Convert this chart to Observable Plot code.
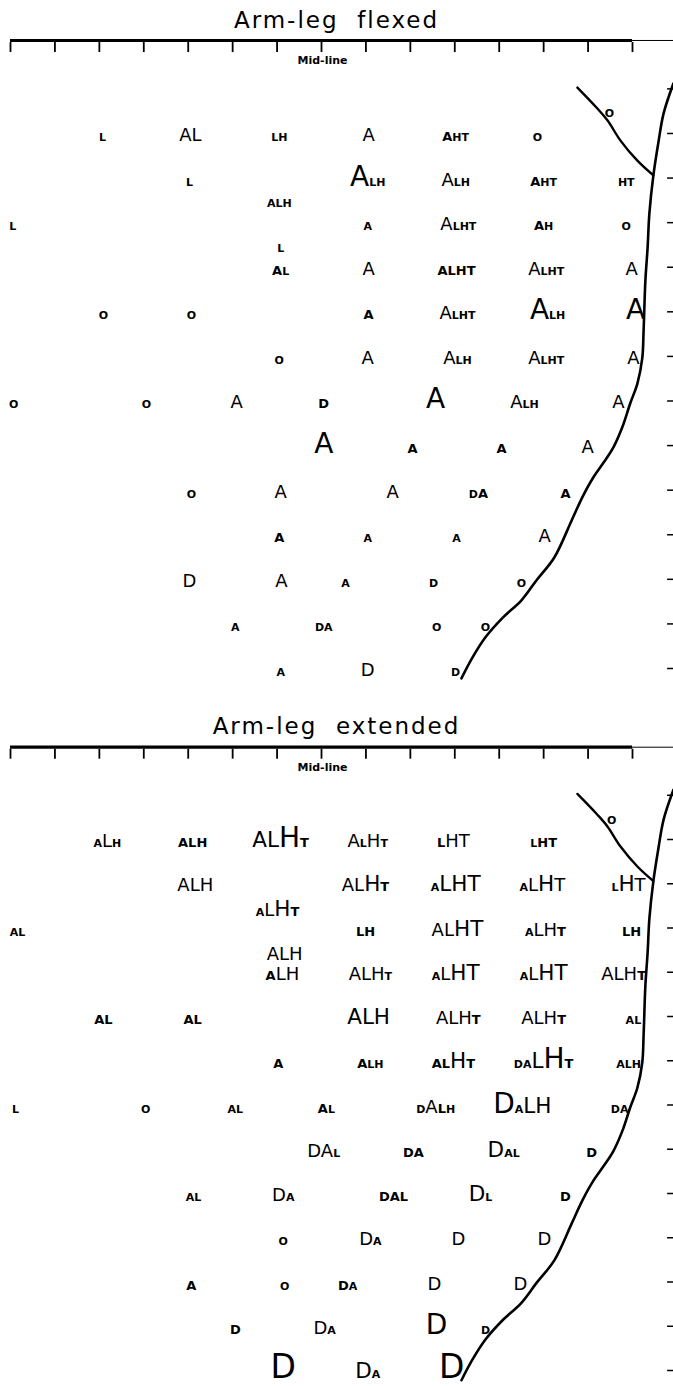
<!DOCTYPE html>
<html><head><meta charset="utf-8">
<script src="https://cdn.jsdelivr.net/npm/d3@7"></script>
<script src="https://cdn.jsdelivr.net/npm/@observablehq/plot@0.6"></script>
<style>
body{margin:0;background:#fff;width:673px;overflow:hidden;}
.title{font:23px "DejaVu Sans",sans-serif;height:30px;line-height:40px;text-align:center;white-space:pre;letter-spacing:2px;color:#000;overflow:visible;}
svg{display:block;}
</style></head><body><div id="c"></div>
<script>
// ---- data ----
const panelTitles = ["Arm-leg  flexed", "Arm-leg  extended"];
const xTicks = d3.range(-7, 8);          // electrode columns, 0 = mid-line
const rowTicks = d3.range(0, 14);        // electrode rows
const midLineLabel = "Mid-line";
// outline of the cortex edge (x in column units, y in rows)
const outline = [[7.92,-0.12],[7.70,0.55],[7.58,1.22],[7.47,1.94],[7.38,2.79],[7.34,3.56],[7.29,4.30],[7.25,5.42],[7.22,6.04],[7.11,6.61],[6.95,7.05],[6.77,7.59],[6.57,8.04],[6.35,8.38],[6.12,8.71],[5.87,9.16],[5.63,9.68],[5.24,10.51],[4.84,11.02],[4.50,11.47],[4.07,11.87],[3.69,12.30],[3.40,12.75],[3.15,13.22]];
const branch = [[5.76,-0.03],[6.21,0.44],[6.44,0.71],[6.73,1.16],[7.11,1.61],[7.47,1.94]];
// responses: [x, row, letters with strength level 1-6]
const flexedLabels = [
[-4.93,1,"L1"],[-2.95,1,"A3L3"],[-0.95,1,"L1H1"],[1.06,1,"A3"],[3.02,1,"A2H1T1"],[4.86,1,"O1"],
[6.48,0.46,"O1"],
[-2.97,2,"L1"],[1.04,2,"A5L1H1"],[3.02,2,"A3L1H1"],[5.0,2,"A2H1T1"],[6.86,2,"H1T1"],
[-0.95,2.48,"A1L1H1"],
[-6.95,3,"L1"],[1.04,3,"A1"],[3.08,3,"A3L1H1T1"],[5.0,3,"A2H1"],[6.86,3,"O1"],
[-0.92,3.49,"L1"],
[-0.92,4,"A2L1"],[1.06,4,"A3"],[3.04,4,"A2L2H2T2"],[5.06,4,"A3L1H1T1"],[6.98,4,"A3"],
[-4.91,5,"O1"],[-2.93,5,"O1"],[1.06,5,"A2"],[3.06,5,"A3L1H1T1"],[5.09,5,"A5L1H1"],[7.07,5,"A5"],
[-0.95,6,"O1"],[1.04,6,"A3"],[3.06,6,"A3L1H1"],[5.06,6,"A3L1H1T1"],[7.02,6,"A3"],
[-6.93,7,"O1"],[-3.94,7,"O1"],[-1.91,7,"A3"],[0.05,7,"D2"],[2.57,7,"A5"],[4.57,7,"A3L1H1"],[6.68,7,"A3"],
[0.05,8,"A5"],[2.05,8,"A2"],[4.05,8,"A2"],[5.99,8,"A3"],
[-2.93,9,"O1"],[-0.92,9,"A3"],[1.60,9,"A3"],[3.53,9,"D1A2"],[5.49,9,"A2"],
[-0.95,10,"A2"],[1.04,10,"A1"],[3.04,10,"A1"],[5.02,10,"A3"],
[-2.97,11,"D3"],[-0.90,11,"A3"],[0.54,11,"A1"],[2.52,11,"D1"],[4.50,11,"O1"],
[-1.94,12,"A1"],[0.05,12,"D1A1"],[2.59,12,"O1"],[3.69,12,"O1"],
[-0.92,13,"A1"],[1.04,13,"D3"],[3.02,13,"D1"]
];
const extendedLabels = [
[-4.82,1,"A1L3H1"],[-2.90,1,"A2L2H2"],[-0.92,1,"A4L4H5T2"],[1.04,1,"A3L1H3T1"],[2.97,1,"L2H3T3"],[5.0,1,"L1H2T2"],
[6.53,0.48,"O1"],
[-2.84,2,"A3L3H3"],[0.99,2,"A3L3H4T2"],[3.02,2,"A1L4H4T4"],[4.97,2,"A1L3H4T3"],[6.91,2,"L1H4T3"],
[-0.99,2.55,"A1L3H4T2"],
[-6.84,3,"A1L1"],[0.99,3,"L2H2"],[3.06,3,"A3L3H4T4"],[5.04,3,"A1L3H3T2"],[6.98,3,"L2H2"],
[-0.83,3.56,"A3L3H3"],
[-0.88,4,"A2L3H3"],[1.10,4,"A3L3H3T1"],[3.02,4,"A1L3H4T4"],[5.0,4,"A1L3H4T4"],[6.80,4,"A3L3H3T2"],
[-4.91,5,"A2L2"],[-2.90,5,"A2L2"],[1.06,5,"A4L4H4"],[3.08,5,"A3L3H3T2"],[5.0,5,"A3L3H3T2"],[7.02,5,"A1L1"],
[-0.97,6,"A2"],[1.10,6,"A2L1H1"],[2.97,6,"A2L2H4T2"],[5.0,6,"D1A1L4H5T2"],[6.91,6,"A1L1H1"],
[-6.89,7,"L1"],[-3.96,7,"O1"],[-1.94,7,"A1L1"],[0.11,7,"A2L1"],[2.57,7,"D1A3L2H1"],[4.52,7,"D5A1L4H4"],[6.71,7,"D1A1"],
[0.05,8,"D3A3L1"],[2.07,8,"D2A2"],[4.10,8,"D4A1L1"],[6.08,8,"D2"],
[-2.88,9,"A1L1"],[-0.86,9,"D3A1"],[1.62,9,"D2A2L2"],[3.58,9,"D4L1"],[5.49,9,"D2"],
[-0.86,10,"O1"],[1.10,10,"D3A1"],[3.08,10,"D3"],[5.02,10,"D3"],
[-2.93,11,"A2"],[-0.83,11,"O1"],[0.59,11,"D2A1"],[2.54,11,"D3"],[4.48,11,"D3"],
[-1.94,12,"D2"],[0.07,12,"D3A1"],[2.59,12,"D5"],[3.69,12,"D1"],
[-0.86,13,"D6"],[1.04,13,"D4A1"],[2.93,13,"D6"]
];

// ---- style / layout ----
const levelSize = {1:11, 2:13, 3:18, 4:21.5, 5:28, 6:33};
const FONT = "'DejaVu Sans', 'Liberation Sans', sans-serif";
const header = {axis: -1.086, tickTop: -1.04, tickBottom: -0.815, label: -0.63};
const edgeTick = [7.79, 7.95];
const BASELINE_DROP = 7.5; // px below the row line

function styleLabels(svg) {
  svg.querySelectorAll("text").forEach(t => {
    const s = t.textContent;
    if (!/^([A-Z][1-6])+$/.test(s)) return;
    const parts = s.match(/[A-Z][1-6]/g);
    t.textContent = "";
    for (const p of parts) {
      const lv = +p[1], size = levelSize[lv];
      const ts = document.createElementNS("http://www.w3.org/2000/svg", "tspan");
      ts.setAttribute("font-size", size);
      ts.setAttribute("font-weight", lv <= 2 ? "bold" : "normal");
      ts.textContent = p[0];
      t.appendChild(ts);
    }
    t.setAttribute("y", BASELINE_DROP);
  });
}

function panel(labels, height, yRange) {
  const svg = Plot.plot({
    width: 673, height, margin: 0,
    style: {background: "white", fontFamily: FONT, color: "black"},
    x: {domain: [-7, 7], range: [10, 632], axis: null},
    y: {domain: [0, 13], range: yRange, axis: null},
    marks: [
      Plot.ruleY([header.axis], {x1: d3.min(xTicks), x2: d3.max(xTicks), stroke: "black", strokeWidth: 3.2}),
      Plot.ruleY([header.axis], {x1: d3.max(xTicks), x2: d3.max(xTicks) + 1, stroke: "black", strokeWidth: 1}),
      Plot.ruleX(xTicks, {x: d => d, y1: header.tickTop, y2: header.tickBottom, stroke: "black", strokeWidth: 1.8}),
      Plot.text([midLineLabel], {x: 0, y: header.label, text: d => d, fontSize: 11, fontWeight: "bold", fill: "black", textAnchor: "middle", dx: 1}),
      Plot.ruleY(rowTicks, {y: d => d, x1: edgeTick[0], x2: edgeTick[1], stroke: "black", strokeWidth: 1.5}),
      Plot.line(outline, {x: d => d[0], y: d => d[1], curve: "catmull-rom", stroke: "black", strokeWidth: 2.6}),
      Plot.line(branch, {x: d => d[0], y: d => d[1], curve: "catmull-rom", stroke: "black", strokeWidth: 2.4}),
      Plot.text(labels, {x: d => d[0], y: d => d[1], text: d => d[2], fill: "black", textAnchor: "middle", fontSize: 12})
    ]
  });
  styleLabels(svg);
  return svg;
}

const c = document.getElementById("c");
[[panelTitles[0], flexedLabels, 676, [58.4, 638]], [panelTitles[1], extendedLabels, 650, [58.75, 634]]].forEach(([title, labels, h, yr]) => {
  const t = document.createElement("div");
  t.className = "title";
  t.textContent = title;
  c.appendChild(t);
  c.appendChild(panel(labels, h, yr));
});
</script></body></html>
